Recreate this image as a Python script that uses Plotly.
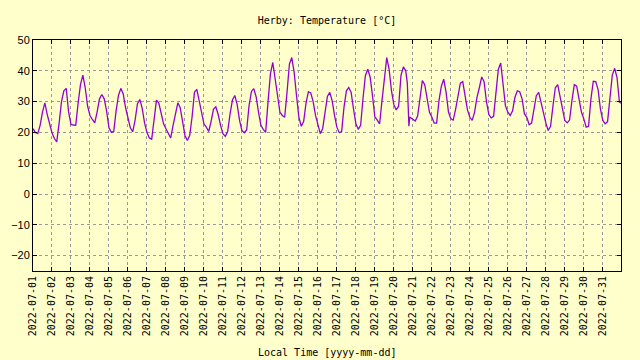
import plotly.graph_objects as go
import pandas as pd

hours = [0, 3, 6, 9, 12, 15, 18, 21]
hours_jul20 = [0, 3, 6, 9, 12, 15, 17, 18, 19, 20, 21]
hours_jul31 = [0, 3, 6, 9, 12, 15, 18, 21, 23]

# Temperature [°C] per day of July 2022
jul01 = [21.2, 20.0, 19.6, 22.3, 26.6, 29.6, 25.8, 22.3]
jul02 = [19.9, 18.0, 16.9, 23.0, 30.0, 33.5, 34.3, 26.6]
jul03 = [22.6, 22.4, 22.3, 29.5, 35.5, 38.6, 34.5, 28.5]
jul04 = [25.5, 24.2, 23.1, 26.6, 30.9, 32.3, 30.9, 27.0]
jul05 = [21.5, 20.0, 20.3, 27.0, 32.0, 34.3, 32.5, 28.0]
jul06 = [24.5, 21.5, 20.2, 24.0, 29.3, 30.7, 27.8, 23.0]
jul07 = [20.0, 18.2, 17.8, 24.5, 30.5, 29.5, 26.6, 22.8]
jul08 = [21.2, 19.9, 18.2, 22.3, 26.6, 29.6, 28.0, 23.3]
jul09 = [19.0, 17.4, 19.0, 25.0, 33.0, 34.0, 30.3, 26.0]
jul10 = [22.8, 21.7, 20.3, 23.5, 27.5, 28.3, 25.8, 22.3]
jul11 = [19.6, 18.7, 20.3, 26.0, 30.5, 32.0, 29.0, 23.9]
jul12 = [20.6, 19.9, 20.8, 28.7, 33.3, 34.2, 31.5, 26.5]
jul13 = [22.3, 21.0, 20.0, 30.0, 39.0, 42.7, 37.0, 31.0]
jul14 = [26.6, 25.5, 24.9, 33.0, 42.2, 44.3, 39.5, 31.9]
jul15 = [24.9, 22.0, 23.5, 29.5, 33.2, 32.8, 30.0, 25.5]
jul16 = [22.3, 19.6, 21.2, 27.1, 31.7, 33.0, 30.3, 25.5]
jul17 = [21.7, 19.9, 20.3, 28.2, 33.5, 34.6, 33.0, 27.6]
jul18 = [22.8, 21.0, 22.3, 31.0, 38.4, 40.5, 38.0, 31.9]
jul19 = [25.0, 24.0, 22.8, 30.3, 37.8, 44.3, 40.5, 33.5]
jul20 = [29.0, 27.3, 28.5, 38.5, 41.3, 40.0, 36.0, 31.0, 22.0, 25.0, 24.8]
jul21 = [24.4, 23.7, 25.3, 31.5, 36.8, 35.5, 31.0, 26.5]
jul22 = [24.9, 23.0, 23.0, 30.3, 35.0, 37.3, 33.0, 26.6]
jul23 = [24.4, 24.0, 27.5, 32.0, 36.0, 36.5, 32.0, 27.3]
jul24 = [24.9, 23.9, 26.6, 31.4, 34.5, 38.0, 36.5, 30.0]
jul25 = [25.8, 24.7, 25.2, 32.5, 40.5, 42.5, 35.5, 28.6]
jul26 = [26.6, 25.5, 27.0, 31.4, 33.5, 33.2, 30.9, 26.0]
jul27 = [24.9, 22.5, 23.0, 27.0, 31.9, 33.0, 29.6, 25.5]
jul28 = [23.1, 20.6, 22.0, 28.5, 34.5, 35.5, 31.5, 27.5]
jul29 = [23.9, 23.1, 24.0, 30.3, 35.5, 35.0, 30.9, 26.6]
jul30 = [24.4, 21.7, 22.0, 30.9, 36.6, 36.5, 34.0, 27.6]
jul31 = [23.9, 22.8, 23.5, 31.9, 38.6, 40.8, 37.8, 29.8, 29.5]

days = [jul01, jul02, jul03, jul04, jul05, jul06, jul07, jul08, jul09, jul10,
        jul11, jul12, jul13, jul14, jul15, jul16, jul17, jul18, jul19, jul20,
        jul21, jul22, jul23, jul24, jul25, jul26, jul27, jul28, jul29, jul30, jul31]

x_vals, y_vals = [], []
for i, temps in enumerate(days, start=1):
    hrs = hours_jul20 if i == 20 else (hours_jul31 if i == 31 else hours)
    for h, t in zip(hrs, temps):
        x_vals.append(pd.Timestamp(2022, 7, i, h))
        y_vals.append(t)

MONO = "DejaVu Sans Mono"
BG = "#ffffcc"
GRID = "#999999"

fig = go.Figure(go.Scatter(x=x_vals, y=y_vals, mode="lines",
                           line=dict(color="#9400d3", width=1.3)))

fig.update_layout(
    width=640, height=360,
    margin=dict(l=33, r=19, t=40, b=89),
    paper_bgcolor=BG, plot_bgcolor=BG,
    showlegend=False,
    title=dict(text="Herby: Temperature [°C]", x=0.5, xref="paper",
               y=1 - 20 / 360, yref="container", yanchor="middle",
               font=dict(family=MONO, size=10, color="black")),
    font=dict(family=MONO, size=10, color="black"),
)

fig.update_xaxes(
    type="date",
    range=["2022-07-01 00:00", "2022-07-31 23:00"],
    tick0="2022-07-01", dtick=86400000, tickformat="%Y-%m-%d",
    tickangle=-90, ticks="inside", ticklen=4, tickcolor="black",
    showline=True, linecolor="black", linewidth=1, mirror="allticks",
    showgrid=True, gridcolor=GRID, gridwidth=1, griddash="3px,3px",
    zeroline=False, automargin=False,
    tickfont=dict(family=MONO, size=10, color="black"),
)
fig.update_yaxes(
    range=[-25, 50], tick0=0, dtick=10,
    ticks="inside", ticklen=4, tickcolor="black",
    showline=True, linecolor="black", linewidth=1, mirror="allticks",
    showgrid=True, gridcolor=GRID, gridwidth=1, griddash="3px,3px",
    zeroline=False, automargin=False,
    tickfont=dict(family="Liberation Sans", size=11, color="black"),
)

fig.add_annotation(text="Local Time [yyyy-mm-dd]", xref="paper", yref="paper",
                   x=0.5, y=-(352 - 271) / 231, xanchor="center", yanchor="middle",
                   showarrow=False, font=dict(family=MONO, size=10, color="black"))

fig.write_html(
    "out.html",
    config={"displayModeBar": False},
    post_script="document.body.style.margin='0';document.body.style.background='" + BG + "';",
)
